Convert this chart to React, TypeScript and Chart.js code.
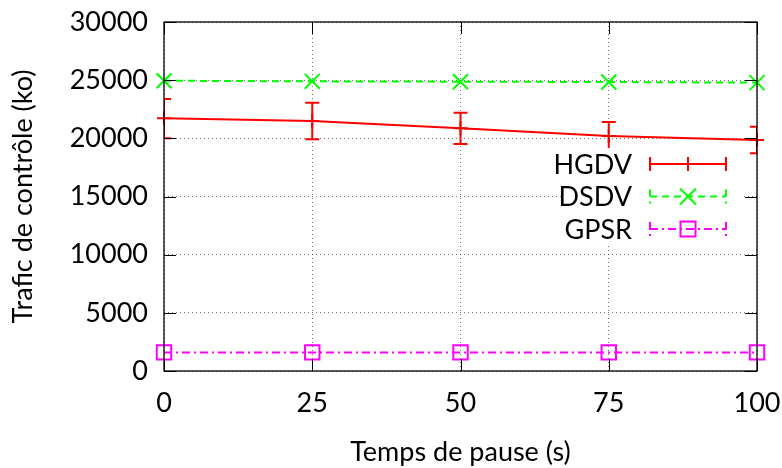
import { useEffect, useRef } from 'react';
import { Chart, registerables } from 'chart.js';

Chart.register(...registerables);

// ---- data ----
const pauseTimes = [0, 25, 50, 75, 100];
const hgdvValues = [21720, 21490, 20860, 20200, 19860];
const hgdvLow = [20000, 19920, 19510, 19060, 18710];
const hgdvHigh = [23380, 23060, 22200, 21400, 21000];
const dsdvValues = [24950, 24900, 24870, 24840, 24790];
const gpsrValues = [1600, 1600, 1600, 1600, 1600];
const xTickValues = [0, 25, 50, 75, 100];
const yTickValues = [0, 5000, 10000, 15000, 20000, 25000, 30000];
const seriesNames = ['HGDV', 'DSDV', 'GPSR'];
const xTitle = 'Temps de pause (s)';
const yTitle = 'Trafic de contrôle (ko)';

const RED = '#ff0000';
const GREEN = '#00ff00';
const MAGENTA = '#ff00ff';
const FONT = 'Lato';
const FONT_SIZE = 27;

function markerPath(ctx: CanvasRenderingContext2D, kind: string, x: number, y: number) {
  ctx.beginPath();
  if (kind === 'plus') {
    ctx.moveTo(x - 7, y); ctx.lineTo(x + 7, y);
    ctx.moveTo(x, y - 7); ctx.lineTo(x, y + 7);
  } else if (kind === 'x') {
    ctx.moveTo(x - 8, y - 8); ctx.lineTo(x + 8, y + 8);
    ctx.moveTo(x - 8, y + 8); ctx.lineTo(x + 8, y - 8);
  } else {
    ctx.rect(x - 7.5, y - 7.5, 15, 15);
  }
  ctx.stroke();
}

const errorBarPlugin = {
  id: 'errorBars',
  afterDatasetsDraw(chart: any) {
    const { ctx, chartArea, scales } = chart;
    const xs = scales.x, ys = scales.y;
    ctx.save();
    ctx.beginPath();
    ctx.rect(chartArea.left, chartArea.top, chartArea.right - chartArea.left, chartArea.bottom - chartArea.top);
    ctx.clip();
    ctx.strokeStyle = RED;
    ctx.lineWidth = 2;
    ctx.setLineDash([]);
    pauseTimes.forEach((t, i) => {
      const x = xs.getPixelForValue(t);
      const yl = ys.getPixelForValue(hgdvLow[i]);
      const yh = ys.getPixelForValue(hgdvHigh[i]);
      ctx.beginPath();
      ctx.moveTo(x, yl); ctx.lineTo(x, yh);
      ctx.moveTo(x - 7, yl); ctx.lineTo(x + 7, yl);
      ctx.moveTo(x - 7, yh); ctx.lineTo(x + 7, yh);
      ctx.stroke();
    });
    ctx.restore();
  },
};

const legendStyles = [
  { color: RED, dash: [] as number[], marker: 'plus' },
  { color: GREEN, dash: [7, 5], marker: 'x' },
  { color: MAGENTA, dash: [8, 4, 2, 4], marker: 'square' },
];

const frameLegendPlugin = {
  id: 'frameLegend',
  afterDraw(chart: any) {
    const { ctx, chartArea, scales } = chart;
    const { left, right, top, bottom } = chartArea;
    ctx.save();
    // opaque key box
    ctx.fillStyle = '#ffffff';
    ctx.fillRect(right - 194, top + 126, 179, 97);
    // key entries
    ctx.font = `${FONT_SIZE}px ${FONT}`;
    ctx.textAlign = 'right';
    ctx.textBaseline = 'middle';
    seriesNames.forEach((name, i) => {
      const y = top + 142 + i * 32.5;
      const st = legendStyles[i];
      ctx.fillStyle = '#000';
      ctx.fillText(name, right - 125, y + 1);
      const x1 = right - 107, x2 = right - 31, xm = (x1 + x2) / 2;
      ctx.strokeStyle = st.color;
      ctx.lineWidth = 2;
      ctx.setLineDash(st.dash);
      ctx.beginPath(); ctx.moveTo(x1, y); ctx.lineTo(x2, y); ctx.stroke();
      ctx.beginPath(); ctx.moveTo(x1, y - 7); ctx.lineTo(x1, y + 7); ctx.stroke();
      ctx.beginPath(); ctx.moveTo(x2, y - 7); ctx.lineTo(x2, y + 7); ctx.stroke();
      ctx.setLineDash([]);
      markerPath(ctx, st.marker, xm, y);
    });
    // tick marks (inward, mirrored)
    ctx.strokeStyle = '#000';
    ctx.lineWidth = 1;
    ctx.setLineDash([]);
    ctx.beginPath();
    xTickValues.forEach((v) => {
      const x = Math.round(scales.x.getPixelForValue(v)) + 0.5;
      ctx.moveTo(x, bottom); ctx.lineTo(x, bottom - 12);
      ctx.moveTo(x, top); ctx.lineTo(x, top + 12);
    });
    yTickValues.forEach((v) => {
      const y = Math.round(scales.y.getPixelForValue(v)) + 0.5;
      ctx.moveTo(left, y); ctx.lineTo(left + 12, y);
      ctx.moveTo(right, y); ctx.lineTo(right - 12, y);
    });
    ctx.stroke();
    // border
    ctx.lineWidth = 1.3;
    ctx.strokeRect(left, top, right - left, bottom - top);
    ctx.restore();
  },
};

function zeroPad(s: any) {
  s.paddingLeft = 0;
  s.paddingRight = 0;
  s.paddingTop = 0;
  s.paddingBottom = 0;
}

export default function App() {
  const canvasRef = useRef<HTMLCanvasElement | null>(null);

  useEffect(() => {
    if (!canvasRef.current) return;
    Chart.defaults.font.family = FONT;
    Chart.defaults.font.size = FONT_SIZE;
    Chart.defaults.color = '#000';

    const toPts = (vals: number[]) => pauseTimes.map((t, i) => ({ x: t, y: vals[i] }));

    const chart = new Chart(canvasRef.current, {
      type: 'line',
      data: {
        datasets: [
          {
            label: seriesNames[0],
            data: toPts(hgdvValues),
            borderColor: RED,
            borderWidth: 2,
            pointStyle: 'cross',
            pointRadius: 7,
            pointBorderWidth: 2,
            pointBorderColor: RED,
            pointBackgroundColor: RED,
            fill: false,
            tension: 0,
            clip: false as any,
          },
          {
            label: seriesNames[1],
            data: toPts(dsdvValues),
            borderColor: GREEN,
            borderWidth: 2,
            borderDash: [7, 5],
            pointStyle: 'crossRot',
            pointRadius: 10.6,
            pointBorderWidth: 2,
            pointBorderColor: GREEN,
            pointBackgroundColor: GREEN,
            fill: false,
            tension: 0,
            clip: false as any,
          },
          {
            label: seriesNames[2],
            data: toPts(gpsrValues),
            borderColor: MAGENTA,
            borderWidth: 2,
            borderDash: [8, 4, 2, 4],
            pointStyle: 'rect',
            pointRadius: 10.2,
            pointBorderWidth: 2,
            pointBorderColor: MAGENTA,
            pointBackgroundColor: 'rgba(0,0,0,0)',
            fill: false,
            tension: 0,
            clip: false as any,
          },
        ],
      },
      options: {
        animation: false,
        responsive: false,
        events: [],
        layout: { padding: { top: 22, right: 25, bottom: 0, left: 0 } },
        plugins: { legend: { display: false }, tooltip: { enabled: false } },
        scales: {
          x: {
            type: 'linear',
            min: 0,
            max: 100,
            afterBuildTicks: (s: any) => { s.ticks = xTickValues.map((v) => ({ value: v })); },
            afterFit: (s: any) => { s.height = 97; zeroPad(s); },
            ticks: { padding: 16, callback: (v: any) => String(v), maxRotation: 0 },
            grid: { color: 'rgba(0,0,0,0.55)', lineWidth: 1, drawTicks: false },
            border: { display: false, dash: [1, 3] },
            title: { display: true, text: xTitle, padding: { top: 0, bottom: 0 }, font: { size: FONT_SIZE } },
          },
          y: {
            type: 'linear',
            min: 0,
            max: 30000,
            afterBuildTicks: (s: any) => { s.ticks = yTickValues.map((v) => ({ value: v })); },
            afterFit: (s: any) => { s.width = 164; zeroPad(s); },
            ticks: { padding: 16, callback: (v: any) => String(v) },
            grid: { color: 'rgba(0,0,0,0.55)', lineWidth: 1, drawTicks: false },
            border: { display: false, dash: [1, 3] },
            title: { display: true, text: yTitle, padding: { top: 7, bottom: 0 }, font: { size: FONT_SIZE } },
          },
        },
      },
      plugins: [errorBarPlugin, frameLegendPlugin],
    } as any);

    return () => chart.destroy();
  }, []);

  return (
    <div style={{ position: 'fixed', left: 0, top: 0, width: 782, height: 468, background: '#fff' }}>
      <canvas ref={canvasRef} width={782} height={468} style={{ display: 'block' }} />
    </div>
  );
}
